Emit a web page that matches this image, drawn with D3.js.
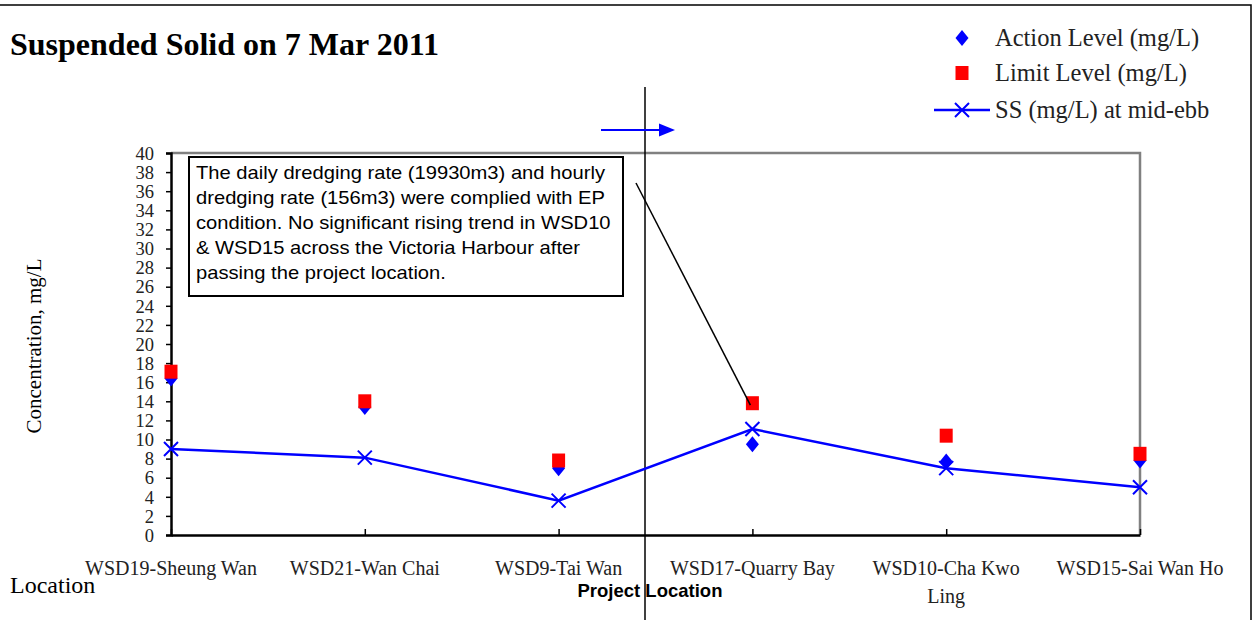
<!DOCTYPE html>
<html>
<head>
<meta charset="utf-8">
<script src="https://cdn.jsdelivr.net/npm/d3@7/dist/d3.min.js"></script>
<style>
  html, body { margin: 0; padding: 0; background: #fff; }
  svg { display: block; }
</style>
</head>
<body>
<svg id="chart" width="1255" height="620"></svg>
<script>
// Monitoring stations along the harbour, west to east
const stations = ["WSD19-Sheung Wan", "WSD21-Wan Chai", "WSD9-Tai Wan",
                  "WSD17-Quarry Bay", "WSD10-Cha Kwo Ling", "WSD15-Sai Wan Ho"];
// Wrapped labels for the category axis
const stationLabels = [["WSD19-Sheung Wan"], ["WSD21-Wan Chai"], ["WSD9-Tai Wan"],
                       ["WSD17-Quarry Bay"], ["WSD10-Cha Kwo", "Ling"], ["WSD15-Sai Wan Ho"]];
// Suspended solids, mg/L
const actionLevel = [16.4, 13.4, 7.0, 9.5, 7.7, 7.8];
const limitLevel  = [17.1, 14.0, 7.8, 13.8, 10.4, 8.5];
const ssMidEbb    = [9.0, 8.1, 3.6, 11.1, 7.0, 5.0];
const yTicks = d3.range(0, 41, 2);

const legendItems = ["Action Level (mg/L)", "Limit Level (mg/L)", "SS (mg/L) at mid-ebb"];
const noteLines = [
  "The daily dredging rate (19930m3) and hourly",
  "dredging rate (156m3) were complied with EP",
  "condition. No significant rising trend in WSD10",
  "& WSD15 across the Victoria Harbour after",
  "passing the project location."
];

const serif = "'Liberation Serif', 'Times New Roman', serif";
const sans = "'Liberation Sans', Arial, sans-serif";
const BLUE = "#0000ff", RED = "#ff0000";

const svg = d3.select("#chart");
const plot = { left: 171, right: 1140, top: 153, bottom: 535 };

const x = d3.scalePoint().domain(stations).range([plot.left, plot.right]).padding(0);
const y = d3.scaleLinear().domain([0, 40]).range([plot.bottom, plot.top]);

// outer frame (top and right edges)
svg.append("path")
  .attr("d", "M0,5H1251V620")
  .attr("fill", "none").attr("stroke", "#000").attr("stroke-width", 1.5);

// title
svg.append("text")
  .attr("x", 10).attr("y", 55)
  .attr("font-family", serif).attr("font-size", 32).attr("font-weight", "bold")
  .text("Suspended Solid on 7 Mar 2011");

// plot frame: grey top/right, black axes drawn after
svg.append("path")
  .attr("d", `M${plot.left},${plot.top}H${plot.right}V${plot.bottom}`)
  .attr("fill", "none").attr("stroke", "#808080").attr("stroke-width", 2.5);

// y axis
const yAxis = svg.append("g")
  .attr("transform", `translate(${plot.left},0)`)
  .call(d3.axisLeft(y).tickValues(yTicks).tickSize(5).tickPadding(12).tickFormat(d3.format("d")));
yAxis.select(".domain").attr("stroke", "#000").attr("stroke-width", 2.5);
yAxis.selectAll(".tick line").attr("stroke", "#000").attr("stroke-width", 1.5);
yAxis.selectAll(".tick text")
  .attr("font-family", serif).attr("font-size", 18.5).attr("fill", "#222")
  .attr("dy", "0.34em");

// x axis
const xAxis = svg.append("g")
  .attr("transform", `translate(0,${plot.bottom})`)
  .call(d3.axisTop(x).tickSize(6).tickSizeOuter(0).tickFormat(""));
xAxis.select(".domain").attr("stroke", "#000").attr("stroke-width", 2.5);
xAxis.selectAll(".tick line").attr("stroke", "#000").attr("stroke-width", 1.5);

// category labels below the axis
const catLabels = svg.append("g").selectAll("text")
  .data(stations)
  .join("text")
  .attr("x", d => x(d))
  .attr("y", plot.bottom + 40)
  .attr("text-anchor", "middle")
  .attr("font-family", serif).attr("font-size", 20).attr("fill", "#222");
catLabels.selectAll("tspan")
  .data((d, i) => stationLabels[i])
  .join("tspan")
  .attr("x", function () { return d3.select(this.parentNode).attr("x"); })
  .attr("dy", (d, i) => i === 0 ? 0 : 28)
  .text(d => d);

// axis titles
svg.append("text")
  .attr("transform", `translate(41,346) rotate(-90)`)
  .attr("text-anchor", "middle")
  .attr("font-family", serif).attr("font-size", 21)
  .text("Concentration, mg/L");
svg.append("text")
  .attr("x", 10).attr("y", 593)
  .attr("font-family", serif).attr("font-size", 24)
  .text("Location");

// project location divider
svg.append("line")
  .attr("x1", 645).attr("x2", 645).attr("y1", 87).attr("y2", 620)
  .attr("stroke", "#000").attr("stroke-width", 1.5);
svg.append("text")
  .attr("x", 650).attr("y", 597).attr("text-anchor", "middle")
  .attr("font-family", sans).attr("font-size", 18.5).attr("font-weight", "bold")
  .text("Project Location");

// direction arrow
svg.append("line")
  .attr("x1", 601).attr("x2", 660).attr("y1", 130).attr("y2", 130)
  .attr("stroke", BLUE).attr("stroke-width", 2);
svg.append("path")
  .attr("d", "M659,123.5L675,130L659,136.5Z")
  .attr("fill", BLUE);

// series: SS line
const ssData = stations.map((s, i) => ({ s, v: ssMidEbb[i] }));
svg.append("path")
  .datum(ssData)
  .attr("fill", "none").attr("stroke", BLUE).attr("stroke-width", 2.5)
  .attr("d", d3.line().x(d => x(d.s)).y(d => y(d.v)));

const crossPath = "M-7,-7L7,7M-7,7L7,-7";
const diamondPath = "M0,-8L6.5,0L0,8L-6.5,0Z";
const squarePath = "M-6.5,-7H6.5V7H-6.5Z";

// action level diamonds
svg.append("g").selectAll("path")
  .data(stations.map((s, i) => ({ s, v: actionLevel[i] })))
  .join("path")
  .attr("transform", d => `translate(${x(d.s)},${y(d.v)})`)
  .attr("d", diamondPath).attr("fill", BLUE);

// limit level squares
svg.append("g").selectAll("path")
  .data(stations.map((s, i) => ({ s, v: limitLevel[i] })))
  .join("path")
  .attr("transform", d => `translate(${x(d.s)},${y(d.v)})`)
  .attr("d", squarePath).attr("fill", RED);

// SS crosses
svg.append("g").selectAll("path")
  .data(ssData)
  .join("path")
  .attr("transform", d => `translate(${x(d.s)},${y(d.v)})`)
  .attr("d", crossPath).attr("stroke", BLUE).attr("stroke-width", 2).attr("fill", "none");

// note box with callout to the WSD17 limit
const box = { x: 189, y: 157, w: 434, h: 139 };
svg.append("line")
  .attr("x1", 636).attr("y1", 183)
  .attr("x2", x(stations[3]) - 2).attr("y2", y(limitLevel[3]) + 2)
  .attr("stroke", "#000").attr("stroke-width", 1.5);
svg.append("rect")
  .attr("x", box.x).attr("y", box.y).attr("width", box.w).attr("height", box.h)
  .attr("fill", "#fff").attr("stroke", "#000").attr("stroke-width", 2);
svg.append("g")
  .attr("transform", `translate(${box.x + 7},0) scale(1.12,1)`)
  .selectAll("text")
  .data(noteLines)
  .join("text")
  .attr("x", 0)
  .attr("y", (d, i) => box.y + 22 + i * 25)
  .attr("font-family", sans).attr("font-size", 18).attr("fill", "#000")
  .text(d => d);

// legend
const legend = svg.append("g");
const legendY = [38, 73, 110];
legend.append("path").attr("transform", `translate(962,${legendY[0]})`)
  .attr("d", diamondPath).attr("fill", BLUE);
legend.append("path").attr("transform", `translate(962,${legendY[1]})`)
  .attr("d", squarePath).attr("fill", RED);
legend.append("line").attr("x1", 934).attr("x2", 990)
  .attr("y1", legendY[2]).attr("y2", legendY[2])
  .attr("stroke", BLUE).attr("stroke-width", 2.5);
legend.append("path").attr("transform", `translate(962,${legendY[2]})`)
  .attr("d", crossPath).attr("stroke", BLUE).attr("stroke-width", 2).attr("fill", "none");
legend.selectAll("text")
  .data(legendItems)
  .join("text")
  .attr("x", 995)
  .attr("y", (d, i) => legendY[i] + 8)
  .attr("font-family", serif).attr("font-size", 24.5).attr("fill", "#222")
  .text(d => d);
</script>
</body>
</html>
